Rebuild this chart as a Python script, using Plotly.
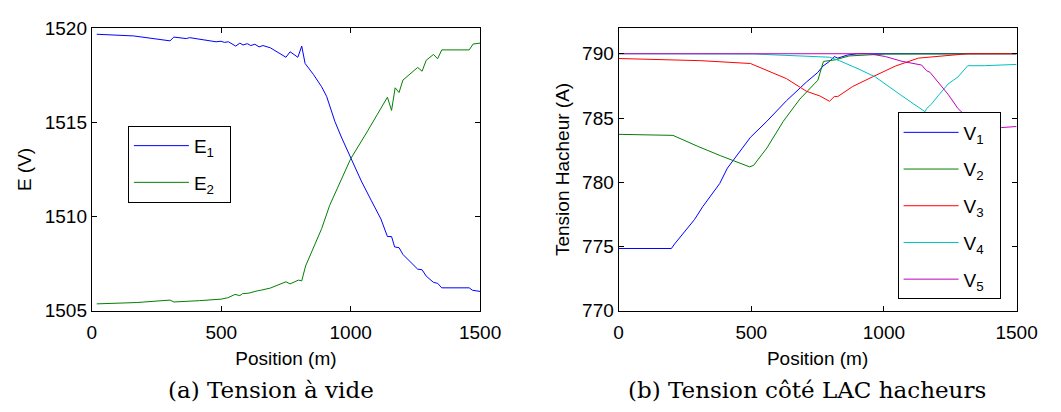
import plotly.graph_objects as go

# ---------------- data: left panel (Tension à vide) ----------------
E1_x = [19, 162, 302, 317, 365, 378, 480, 499, 512, 528, 556, 572, 584, 601, 614, 630, 646, 661, 690,
        721, 750, 766, 796, 811, 824, 856, 888, 907, 939, 964, 1002, 1041, 1079, 1117, 1142, 1158, 1170,
        1187, 1202, 1231, 1259, 1276, 1292, 1320, 1336, 1352, 1458, 1471, 1500]
E1_y = [1519.67, 1519.58, 1519.32, 1519.52, 1519.44, 1519.49, 1519.27, 1519.30, 1519.24, 1519.27, 1519.04,
        1519.20, 1519.10, 1519.17, 1519.07, 1519.14, 1519.00, 1519.07, 1518.95, 1518.70, 1518.45, 1518.74,
        1518.45, 1519.04, 1518.12, 1517.54, 1516.88, 1516.38, 1515.05, 1514.22, 1513.06, 1511.89, 1510.87,
        1509.87, 1508.94, 1508.94, 1508.39, 1508.35, 1507.99, 1507.60, 1507.21, 1507.18, 1506.84, 1506.51,
        1506.46, 1506.22, 1506.22, 1506.09, 1506.03]
E2_x = [19, 174, 302, 317, 416, 499, 525, 553, 572, 582, 607, 623, 639, 652, 690, 750, 766, 798, 811, 826,
        856, 888, 919, 951, 1000, 1066, 1142, 1158, 1172, 1187, 1202, 1259, 1276, 1292, 1320, 1336, 1352,
        1458, 1473, 1500]
E2_y = [1505.37, 1505.44, 1505.57, 1505.47, 1505.54, 1505.62, 1505.69, 1505.87, 1505.81, 1505.91, 1505.94,
        1506.02, 1506.06, 1506.09, 1506.21, 1506.54, 1506.43, 1506.63, 1506.59, 1507.38, 1508.36, 1509.36,
        1510.60, 1511.60, 1513.06, 1514.55, 1516.33, 1515.63, 1516.83, 1516.58, 1517.24, 1517.91, 1517.71,
        1518.29, 1518.60, 1518.37, 1518.84, 1518.84, 1519.15, 1519.20]

# ---------------- data: right panel (Tension côté LAC hacheurs) ----------------
V1_x = [0, 199, 211, 286, 317, 381, 410, 497, 559, 633, 708, 751, 770, 795, 813, 826, 863, 900, 1500]
V1_y = [774.85, 774.85, 775.2, 777.1, 778.1, 779.9, 781.1, 783.5, 784.75, 786.35, 787.8, 788.55, 789.04,
        789.4, 789.78, 789.66, 789.9, 790, 790]
V2_x = [0, 205, 298, 385, 494, 509, 559, 621, 683, 751, 772, 801, 817, 869, 944, 1006, 1500]
V2_y = [783.73, 783.65, 782.8, 782.06, 781.2, 781.32, 782.67, 784.75, 786.47, 787.94, 789.4, 789.46, 789.53,
        789.83, 789.9, 789.98, 790]
V3_x = [0, 199, 310, 497, 559, 633, 708, 758, 795, 813, 826, 882, 956, 1043, 1130, 1254, 1316, 1500]
V3_y = [789.63, 789.55, 789.46, 789.24, 788.68, 788.06, 787.08, 786.72, 786.3, 786.67, 786.67, 787.45,
        788.19, 789.04, 789.66, 789.9, 790, 790]
V4_x = [0, 509, 795, 832, 906, 968, 1068, 1155, 1161, 1180, 1204, 1242, 1279, 1316, 1378, 1428, 1500]
V4_y = [790, 789.98, 789.73, 789.46, 788.8, 788.19, 786.72, 785.49, 785.74, 786.1, 786.72, 787.65, 788.19,
        789.07, 789.07, 789.12, 789.17]
V5_x = [0, 894, 944, 1006, 1068, 1142, 1161, 1174, 1204, 1242, 1279, 1304, 1340, 1444, 1500]
V5_y = [790, 790, 790, 789.78, 789.41, 789.12, 788.68, 788.55, 787.82, 786.84, 785.74, 785.25, 784.3,
        784.26, 784.34]

x_ticks = [0, 500, 1000, 1500]
left_y_ticks = [1505, 1510, 1515, 1520]
right_y_ticks = [770, 775, 780, 785, 790]

left_names = ["E<sub>1</sub>", "E<sub>2</sub>"]
right_names = ["V<sub>1</sub>", "V<sub>2</sub>", "V<sub>3</sub>", "V<sub>4</sub>", "V<sub>5</sub>"]
colors = ["#0000ff", "#008000", "#ff0000", "#00bfbf", "#bf00bf"]

FONT = "Liberation Sans"
FS = 19
PAD = "\u00a0" * 2

fig = go.Figure()
for i, (xs, ys) in enumerate([(E1_x, E1_y), (E2_x, E2_y)]):
    fig.add_trace(go.Scatter(x=xs, y=ys, mode="lines", name=left_names[i] + PAD,
                             line=dict(color=colors[i], width=1),
                             xaxis="x", yaxis="y", legend="legend", legendgroup="L%d" % i))
for i, (xs, ys) in enumerate([(V1_x, V1_y), (V2_x, V2_y), (V3_x, V3_y), (V4_x, V4_y), (V5_x, V5_y)]):
    fig.add_trace(go.Scatter(x=xs, y=ys, mode="lines", name=right_names[i] + PAD,
                             line=dict(color=colors[i], width=1),
                             xaxis="x2", yaxis="y2", legend="legend2", legendgroup="R%d" % i))

axis_common = dict(showline=True, linecolor="black", linewidth=1, mirror="ticks", ticks="inside",
                   ticklen=5, tickcolor="black", showgrid=False, zeroline=False,
                   tickfont=dict(family=FONT, size=FS, color="black"))
ydom = [1 - 317 / 412, 1 - 19 / 412]
title_font = dict(family=FONT, size=FS, color="black")

legend_common = dict(bgcolor="white", bordercolor="black", borderwidth=1,
                     font=dict(family=FONT, size=FS, color="black"),
                     xanchor="left", yanchor="top", tracegroupgap=9, itemwidth=55)

fig.update_layout(
    width=1061, height=412, margin=dict(l=0, r=0, t=0, b=0),
    paper_bgcolor="white", plot_bgcolor="white",
    xaxis=dict(domain=[89 / 1061, 487 / 1061], range=[0, 1500], tickvals=x_ticks, ticklabelstandoff=4,
               title=dict(text="Position (m)", font=title_font, standoff=10),
               anchor="y", **axis_common),
    yaxis=dict(domain=ydom, range=[1505, 1520], tickvals=left_y_ticks,
               title=dict(text="E (V)", font=title_font, standoff=8),
               anchor="x", **axis_common),
    xaxis2=dict(domain=[629 / 1061, 1037 / 1061], range=[0, 1500], tickvals=x_ticks, ticklabelstandoff=4,
                title=dict(text="Position (m)", font=title_font, standoff=10),
                anchor="y2", **axis_common),
    yaxis2=dict(domain=ydom, range=[770, 792], tickvals=right_y_ticks,
                title=dict(text="Tension Hacheur (A)", font=title_font, standoff=7),
                anchor="x2", **axis_common),
    legend=dict(x=126 / 1061, y=1 - 122 / 412, **legend_common),
    legend2=dict(x=915 / 1061, y=1 - 108 / 412, **legend_common),
    annotations=[
        dict(text="(a) Tension à vide", x=273 / 1061, y=1 - 400 / 412, xref="paper", yref="paper",
             xanchor="center", yanchor="middle", showarrow=False,
             font=dict(family="DejaVu Serif", size=23, color="black")),
        dict(text="(b) Tension côté LAC hacheurs", x=822 / 1061, y=1 - 400 / 412, xref="paper", yref="paper",
             xanchor="center", yanchor="middle", showarrow=False,
             font=dict(family="DejaVu Serif", size=23, color="black")),
    ],
    showlegend=True,
)

fig.write_html("out.html", config={"displayModeBar": False},
               post_script="document.body.style.margin='0';document.body.style.overflow='hidden';")
